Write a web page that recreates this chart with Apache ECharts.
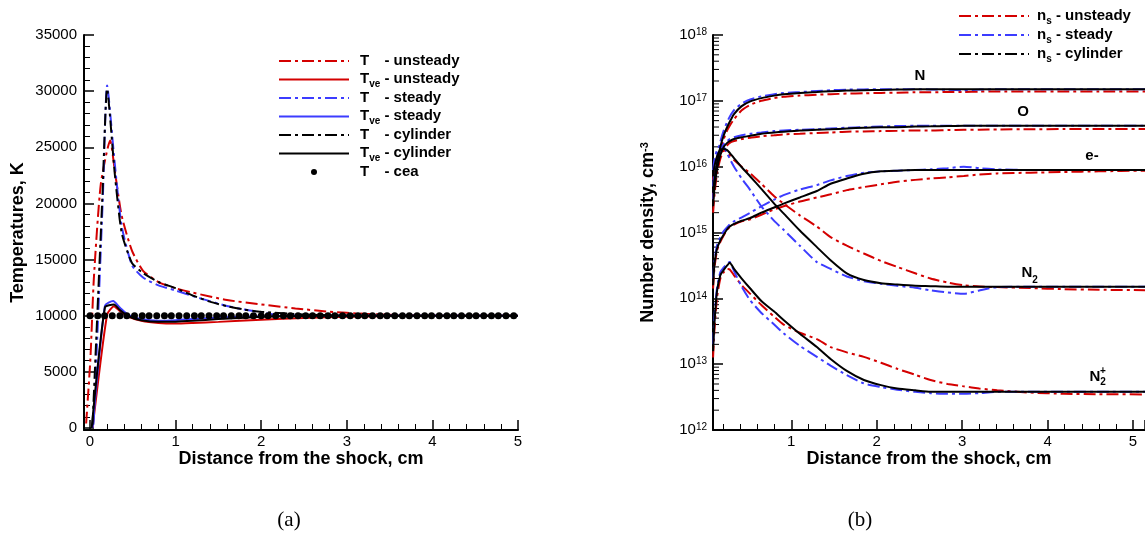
<!DOCTYPE html>
<html><head><meta charset="utf-8">
<script src="https://cdn.jsdelivr.net/npm/echarts@6/dist/echarts.min.js"></script>
<style>html,body{margin:0;padding:0;background:#fff}#c{width:1145px;height:533px}</style>
</head><body><div id="c"></div>
<script>
const FONT = '"Liberation Sans", Arial, sans-serif';
const RED = '#d40000', BLUE = '#3c3cff', BLACK = '#000000';
const DASHDOT = [12, 4, 3, 4];

// ---------- Panel (a): temperatures ----------
const tUnsteadyX = [-0.045, 0.005, 0.045, 0.126, 0.236, 0.29, 0.37, 0.49, 0.62, 0.8, 1.0, 1.2, 1.6, 2.0, 2.4, 2.8, 3.2, 3.6, 4.0, 5.0];
const tUnsteadyY = [400, 6200, 13300, 21700, 25600, 22900, 18900, 15800, 14000, 13000, 12450, 12050, 11400, 11000, 10650, 10350, 10170, 10050, 10000, 10000];
const tveUnsteadyX = [0.03, 0.2, 0.28, 0.35, 0.45, 0.6, 0.8, 1.0, 1.2, 1.5, 2.0, 2.5, 3.0, 3.5, 4.0, 5.0];
const tveUnsteadyY = [0, 10100, 10850, 10400, 9900, 9550, 9350, 9300, 9350, 9450, 9650, 9800, 9900, 9970, 10000, 10000];
const tSteadyX = [0.04, 0.09, 0.15, 0.2, 0.29, 0.37, 0.49, 0.62, 0.8, 1.0, 1.2, 1.4, 1.6, 1.8, 2.0, 2.2, 2.6, 3.0, 4.0, 5.0];
const tSteadyY = [300, 9000, 20500, 30500, 23500, 18000, 14500, 13400, 12700, 12250, 11750, 11300, 10860, 10550, 10300, 10080, 10000, 10000, 10000, 10000];
const tveSteadyX = [0.03, 0.175, 0.27, 0.35, 0.45, 0.6, 0.8, 1.0, 1.2, 1.5, 2.0, 2.5, 5.0];
const tveSteadyY = [0, 10900, 11300, 10700, 10050, 9700, 9550, 9600, 9700, 9850, 9950, 10000, 10000];
const tCylX = [0.03, 0.086, 0.147, 0.2, 0.29, 0.37, 0.49, 0.62, 0.8, 1.0, 1.2, 1.4, 1.6, 1.8, 2.0, 2.4, 2.8, 3.2, 4.0, 5.0];
const tCylY = [300, 10200, 21000, 30200, 22600, 17400, 14700, 13800, 13000, 12450, 11800, 11250, 10850, 10550, 10350, 10150, 10030, 10000, 10000, 10000];
const tveCylX = [0.02, 0.175, 0.28, 0.35, 0.45, 0.6, 0.8, 1.0, 1.2, 1.5, 2.0, 2.5, 3.0, 5.0];
const tveCylY = [0, 10750, 11000, 10500, 9950, 9600, 9450, 9470, 9550, 9700, 9900, 9980, 10000, 10000];
const ceaX = [0, 0.09, 0.17, 0.26, 0.35, 0.43, 0.52, 0.61, 0.69, 0.78, 0.87, 0.95, 1.04, 1.13, 1.22, 1.30, 1.39, 1.48, 1.56, 1.65, 1.74, 1.82, 1.91, 2.00, 2.08, 2.17, 2.26, 2.34, 2.43, 2.52, 2.60, 2.69, 2.78, 2.86, 2.95, 3.04, 3.13, 3.21, 3.30, 3.39, 3.47, 3.56, 3.65, 3.73, 3.82, 3.91, 3.99, 4.08, 4.17, 4.25, 4.34, 4.43, 4.51, 4.60, 4.69, 4.77, 4.86, 4.95];
const ceaY = [10000, 10000, 10000, 10000, 10000, 10000, 10000, 10000, 10000, 10000, 10000, 10000, 10000, 10000, 10000, 10000, 10000, 10000, 10000, 10000, 10000, 10000, 10000, 10000, 10000, 10000, 10000, 10000, 10000, 10000, 10000, 10000, 10000, 10000, 10000, 10000, 10000, 10000, 10000, 10000, 10000, 10000, 10000, 10000, 10000, 10000, 10000, 10000, 10000, 10000, 10000, 10000, 10000, 10000, 10000, 10000, 10000, 10000];

// ---------- Panel (b): number densities ----------
const RX = [0.085, 0.1, 0.13, 0.17, 0.21, 0.25, 0.28, 0.33, 0.42, 0.52, 0.65, 0.8, 0.91, 1.1, 1.3, 1.46, 1.65, 1.85, 2.05, 2.24, 2.45, 2.63, 2.83, 3.02, 3.2, 3.41, 3.8, 4.19, 4.6, 5.14];
const nCyl = [4.0e15, 6.3e15, 1.12e16, 2.0e16, 3.0e16, 4.0e16, 4.8e16, 6.3e16, 8.3e16, 9.8e16, 1.1e17, 1.2e17, 1.26e17, 1.32e17, 1.36e17, 1.4e17, 1.43e17, 1.45e17, 1.46e17, 1.48e17, 1.5e17, 1.5e17, 1.5e17, 1.5e17, 1.5e17, 1.5e17, 1.5e17, 1.5e17, 1.5e17, 1.5e17];
const nStd = [5.0e15, 7.9e15, 1.41e16, 2.4e16, 3.55e16, 4.8e16, 5.75e16, 7.2e16, 9.1e16, 1.05e17, 1.17e17, 1.26e17, 1.32e17, 1.36e17, 1.41e17, 1.45e17, 1.48e17, 1.49e17, 1.5e17, 1.5e17, 1.5e17, 1.49e17, 1.47e17, 1.45e17, 1.48e17, 1.5e17, 1.5e17, 1.5e17, 1.5e17, 1.5e17];
const nUns = [3.2e15, 5.0e15, 1.0e16, 1.78e16, 2.63e16, 3.55e16, 4.2e16, 5.25e16, 7.2e16, 8.7e16, 1.0e17, 1.1e17, 1.15e17, 1.2e17, 1.24e17, 1.26e17, 1.29e17, 1.3e17, 1.32e17, 1.33e17, 1.35e17, 1.35e17, 1.36e17, 1.36e17, 1.38e17, 1.38e17, 1.38e17, 1.38e17, 1.38e17, 1.38e17];
const oCyl = [2.5e15, 4.5e15, 8.9e15, 1.5e16, 2.0e16, 2.3e16, 2.45e16, 2.63e16, 2.8e16, 2.95e16, 3.16e16, 3.3e16, 3.4e16, 3.55e16, 3.63e16, 3.7e16, 3.8e16, 3.9e16, 3.98e16, 3.98e16, 4.07e16, 4.1e16, 4.15e16, 4.17e16, 4.17e16, 4.17e16, 4.17e16, 4.17e16, 4.17e16, 4.17e16];
const oStd = [3.2e15, 5.6e15, 1.12e16, 1.78e16, 2.2e16, 2.45e16, 2.63e16, 2.8e16, 3.0e16, 3.16e16, 3.3e16, 3.47e16, 3.55e16, 3.63e16, 3.7e16, 3.8e16, 3.9e16, 3.98e16, 4.07e16, 4.15e16, 4.17e16, 4.17e16, 4.17e16, 4.17e16, 4.17e16, 4.17e16, 4.17e16, 4.17e16, 4.17e16, 4.17e16];
const oUns = [2.0e15, 3.55e15, 7.9e15, 1.32e16, 1.78e16, 2.1e16, 2.3e16, 2.45e16, 2.63e16, 2.75e16, 2.9e16, 3.0e16, 3.1e16, 3.16e16, 3.24e16, 3.3e16, 3.4e16, 3.43e16, 3.47e16, 3.5e16, 3.55e16, 3.55e16, 3.6e16, 3.63e16, 3.65e16, 3.68e16, 3.7e16, 3.72e16, 3.72e16, 3.72e16];
const eCyl = [1.58e14, 3.16e14, 5.6e14, 7.6e14, 9.3e14, 1.12e15, 1.23e15, 1.35e15, 1.51e15, 1.66e15, 2.0e15, 2.4e15, 2.75e15, 3.4e15, 4.27e15, 5.5e15, 6.6e15, 7.8e15, 8.5e15, 8.7e15, 8.9e15, 8.9e15, 8.9e15, 8.9e15, 8.9e15, 8.9e15, 8.9e15, 8.9e15, 8.9e15, 8.9e15];
const eStd = [2.0e14, 3.55e14, 6.3e14, 8.5e14, 1.05e15, 1.2e15, 1.32e15, 1.48e15, 1.7e15, 2.0e15, 2.5e15, 3.16e15, 3.7e15, 4.5e15, 5.25e15, 6.2e15, 7.2e15, 8.1e15, 8.5e15, 8.7e15, 8.9e15, 9.1e15, 9.5e15, 1.0e16, 9.5e15, 9.1e15, 8.9e15, 8.9e15, 8.9e15, 8.9e15];
const eUns = [1.41e14, 2.8e14, 5.25e14, 7.2e14, 9.1e14, 1.1e15, 1.2e15, 1.32e15, 1.48e15, 1.58e15, 1.86e15, 2.24e15, 2.5e15, 2.95e15, 3.4e15, 3.8e15, 4.4e15, 4.9e15, 5.4e15, 5.9e15, 6.3e15, 6.6e15, 6.9e15, 7.2e15, 7.6e15, 7.9e15, 8.1e15, 8.3e15, 8.5e15, 8.7e15];
const n2Cyl = [7.1e15, 1.0e16, 1.41e16, 1.82e16, 1.86e16, 1.78e16, 1.62e16, 1.35e16, 9.8e15, 7.1e15, 4.6e15, 2.75e15, 1.95e15, 1.07e15, 6.0e14, 3.8e14, 2.4e14, 1.9e14, 1.7e14, 1.62e14, 1.55e14, 1.53e14, 1.5e14, 1.5e14, 1.5e14, 1.5e14, 1.5e14, 1.5e14, 1.5e14, 1.5e14];
const n2Std = [8.9e15, 1.26e16, 1.78e16, 2.1e16, 2.0e16, 1.58e16, 1.32e16, 1.0e16, 6.6e15, 4.4e15, 2.5e15, 1.5e15, 1.1e15, 6.3e14, 3.55e14, 2.8e14, 2.15e14, 1.82e14, 1.66e14, 1.55e14, 1.45e14, 1.32e14, 1.23e14, 1.17e14, 1.32e14, 1.48e14, 1.5e14, 1.5e14, 1.5e14, 1.5e14];
const n2Uns = [6.3e15, 8.9e15, 1.26e16, 1.58e16, 1.78e16, 1.66e16, 1.48e16, 1.26e16, 1.0e16, 7.9e15, 5.5e15, 3.55e15, 2.75e15, 1.82e15, 1.23e15, 8.5e14, 6.3e14, 4.8e14, 3.7e14, 3.0e14, 2.4e14, 2.0e14, 1.74e14, 1.58e14, 1.51e14, 1.48e14, 1.43e14, 1.38e14, 1.35e14, 1.33e14];
const n2pCyl = [1.58e13, 4.0e13, 1.26e14, 2.24e14, 2.7e14, 3.16e14, 3.47e14, 2.8e14, 2.0e14, 1.41e14, 9.1e13, 6.3e13, 4.7e13, 2.9e13, 1.82e13, 1.2e13, 7.9e12, 5.75e12, 4.8e12, 4.27e12, 4.0e12, 3.8e12, 3.8e12, 3.8e12, 3.8e12, 3.8e12, 3.8e12, 3.8e12, 3.8e12, 3.8e12];
const n2pStd = [2.0e13, 5.0e13, 1.41e14, 2.5e14, 2.95e14, 3.4e14, 3.55e14, 2.6e14, 1.5e14, 9.3e13, 6.0e13, 4.0e13, 2.95e13, 1.9e13, 1.29e13, 9.5e12, 6.8e12, 5.1e12, 4.5e12, 4.1e12, 3.8e12, 3.63e12, 3.55e12, 3.55e12, 3.63e12, 3.8e12, 3.8e12, 3.8e12, 3.8e12, 3.8e12];
const n2pUns = [1.26e13, 3.16e13, 1.0e14, 2.0e14, 2.5e14, 2.8e14, 2.75e14, 2.24e14, 1.58e14, 1.17e14, 7.9e13, 5.25e13, 4.0e13, 3.0e13, 2.4e13, 1.82e13, 1.51e13, 1.29e13, 1.05e13, 8.5e12, 6.9e12, 5.75e12, 5.0e12, 4.6e12, 4.27e12, 4.0e12, 3.7e12, 3.55e12, 3.5e12, 3.47e12];

// axis ranges
const LX_MIN = -0.07, LX_MAX = 5, LY_MIN = -180, LY_MAX = 35000;
const RX_MIN = 0.084, RX_MAX = 5.14, RY_MIN = 1e12, RY_MAX = 1e18;

// minor log tick positions (axis decoration)
const logMinorTicks = [];
for (let e = 12; e < 18; e++) for (let m = 2; m <= 9; m++) logMinorTicks.push(m * Math.pow(10, e));

const zip = (xs, ys) => xs.map((x, i) => [x, ys[i]]);

function lineS(name, xs, ys, color, dashed, gi) {
  return {
    type: 'line', name, xAxisIndex: gi, yAxisIndex: gi, data: zip(xs, ys),
    symbol: 'none', showSymbol: false, smooth: 0.2, silent: true,
    lineStyle: { color, width: 2, type: dashed ? DASHDOT : 'solid' },
    itemStyle: { color }, emphasis: { disabled: true }
  };
}

const L_UNS = 'T - unsteady', L_VUNS = 'Tve - unsteady', L_STD = 'T - steady', L_VSTD = 'Tve - steady',
      L_CYL = 'T - cylinder', L_VCYL = 'Tve - cylinder', L_CEA = 'T - cea';
const R_UNS = 'ns - unsteady', R_STD = 'ns - steady', R_CYL = 'ns - cylinder';

const legendRich = {
  t: { fontFamily: FONT, fontSize: 15, fontWeight: 'bold', color: '#000', lineHeight: 16, verticalAlign: 'top', padding: [0, 0, 0, 6] },
  t2: { fontFamily: FONT, fontSize: 15, fontWeight: 'bold', color: '#000', lineHeight: 16, verticalAlign: 'top', padding: [0, 0, 0, 3] },
  r: { fontFamily: FONT, fontSize: 15, fontWeight: 'bold', color: '#000', lineHeight: 16, verticalAlign: 'top' },
  sub: { fontFamily: FONT, fontSize: 10, fontWeight: 'bold', color: '#000', lineHeight: 10, verticalAlign: 'top', padding: [8, 0, 0, 0] },
  ghost: { fontFamily: FONT, fontSize: 10, fontWeight: 'bold', color: 'rgba(0,0,0,0)', lineHeight: 10, verticalAlign: 'top', padding: [8, 0, 0, 0] }
};
const legendText = {};
legendText[L_UNS] = '{t|T}{ghost|ve}{r| - unsteady}';
legendText[L_VUNS] = '{t|T}{sub|ve}{r| - unsteady}';
legendText[L_STD] = '{t|T}{ghost|ve}{r| - steady}';
legendText[L_VSTD] = '{t|T}{sub|ve}{r| - steady}';
legendText[L_CYL] = '{t|T}{ghost|ve}{r| - cylinder}';
legendText[L_VCYL] = '{t|T}{sub|ve}{r| - cylinder}';
legendText[L_CEA] = '{t|T}{ghost|ve}{r| - cea}';
legendText[R_UNS] = '{t2|n}{sub|s}{r| - unsteady}';
legendText[R_STD] = '{t2|n}{sub|s}{r| - steady}';
legendText[R_CYL] = '{t2|n}{sub|s}{r| - cylinder}';

const tickLabel = { fontFamily: FONT, fontSize: 15, color: '#000' };
const axisTitle = { fontFamily: FONT, fontSize: 18, fontWeight: 'bold', color: '#000' };
function baseAxis(extra) {
  return Object.assign({
    type: 'value',
    axisLine: { show: true, onZero: false, lineStyle: { color: '#000', width: 2 } },
    axisTick: { show: true, inside: true, length: 10, lineStyle: { color: '#000', width: 1.5 } },
    minorTick: { show: true, splitNumber: 5, length: 6, lineStyle: { color: '#000', width: 1 } },
    splitLine: { show: false }, minorSplitLine: { show: false },
    axisPointer: { show: false }
  }, extra);
}

const series = [
  lineS(L_UNS, tUnsteadyX, tUnsteadyY, RED, true, 0),
  lineS(L_VUNS, tveUnsteadyX, tveUnsteadyY, RED, false, 0),
  lineS(L_STD, tSteadyX, tSteadyY, BLUE, true, 0),
  lineS(L_VSTD, tveSteadyX, tveSteadyY, BLUE, false, 0),
  lineS(L_CYL, tCylX, tCylY, BLACK, true, 0),
  lineS(L_VCYL, tveCylX, tveCylY, BLACK, false, 0),
  { type: 'scatter', name: L_CEA, xAxisIndex: 0, yAxisIndex: 0, data: zip(ceaX, ceaY), symbol: 'circle', symbolSize: 7, itemStyle: { color: '#000', opacity: 1 }, silent: true, z: 5 },
  // panel b: unsteady (red), steady (blue), cylinder (black)
  lineS(R_UNS, RX, nUns, RED, true, 1), lineS(R_UNS, RX, oUns, RED, true, 1), lineS(R_UNS, RX, eUns, RED, true, 1), lineS(R_UNS, RX, n2Uns, RED, true, 1), lineS(R_UNS, RX, n2pUns, RED, true, 1),
  lineS(R_STD, RX, nStd, BLUE, true, 1), lineS(R_STD, RX, oStd, BLUE, true, 1), lineS(R_STD, RX, eStd, BLUE, true, 1), lineS(R_STD, RX, n2Std, BLUE, true, 1), lineS(R_STD, RX, n2pStd, BLUE, true, 1),
  lineS(R_CYL, RX, nCyl, BLACK, false, 1), lineS(R_CYL, RX, oCyl, BLACK, false, 1), lineS(R_CYL, RX, eCyl, BLACK, false, 1), lineS(R_CYL, RX, n2Cyl, BLACK, false, 1), lineS(R_CYL, RX, n2pCyl, BLACK, false, 1),
  {
    type: 'custom', name: 'minorLogTicks', xAxisIndex: 1, yAxisIndex: 1, silent: true, clip: false,
    data: logMinorTicks.map(v => [RX_MIN, v]),
    renderItem: (params, api) => {
      const p = api.coord([api.value(0), api.value(1)]);
      return { type: 'line', shape: { x1: p[0], y1: p[1], x2: p[0] + 6, y2: p[1] }, style: { stroke: '#000', lineWidth: 1 } };
    }
  }
];

const option = {
  animation: false,
  backgroundColor: '#fff',
  grid: [
    { left: 84, top: 35, width: 434, height: 395, containLabel: false, outerBoundsMode: 'none' },
    { left: 713, top: 35, width: 432, height: 395, containLabel: false, outerBoundsMode: 'none' }
  ],
  xAxis: [
    baseAxis({ gridIndex: 0, min: LX_MIN, max: LX_MAX, splitNumber: 5,
      axisLabel: Object.assign({ showMinLabel: false, margin: 4, formatter: v => String(Math.round(v)) }, tickLabel),
      name: 'Distance from the shock, cm', nameLocation: 'middle', nameGap: 20, nameMoveOverlap: false, nameTextStyle: axisTitle }),
    baseAxis({ gridIndex: 1, min: RX_MIN, max: RX_MAX, splitNumber: 5,
      axisLabel: Object.assign({ showMinLabel: false, showMaxLabel: false, margin: 4, formatter: v => String(Math.round(v)) }, tickLabel),
      name: 'Distance from the shock, cm', nameLocation: 'middle', nameGap: 20, nameMoveOverlap: false, nameTextStyle: axisTitle })
  ],
  yAxis: [
    baseAxis({ gridIndex: 0, min: LY_MIN, max: LY_MAX, splitNumber: 7,
      axisLabel: Object.assign({ showMinLabel: false, margin: 7, formatter: v => String(Math.round(v)) }, tickLabel),
      name: 'Temperatures, K', nameLocation: 'middle', nameGap: 57, nameMoveOverlap: false, nameTextStyle: axisTitle }),
    baseAxis({ gridIndex: 1, type: 'log', logBase: 10, min: RY_MIN, max: RY_MAX, splitNumber: 6,
      minorTick: { show: false },
      axisLabel: {
        margin: 6, lineHeight: 20,
        formatter: v => '{b|10}{s|' + Math.round(Math.log10(v)) + '}',
        rich: {
          b: { fontFamily: FONT, fontSize: 15, color: '#000', lineHeight: 15, verticalAlign: 'bottom' },
          s: { fontFamily: FONT, fontSize: 10, color: '#000', lineHeight: 10, verticalAlign: 'top' }
        }
      },
      name: '{b|Number density, cm}{s|-3}', nameLocation: 'middle', nameGap: 56, nameMoveOverlap: false,
      nameTextStyle: {
        rich: {
          b: { fontFamily: FONT, fontSize: 18, fontWeight: 'bold', color: '#000', lineHeight: 18, verticalAlign: 'bottom' },
          s: { fontFamily: FONT, fontSize: 11, fontWeight: 'bold', color: '#000', lineHeight: 11, verticalAlign: 'top' }
        }
      } })
  ],
  legend: [
    {
      orient: 'vertical', left: 278, top: 53, padding: 0, itemWidth: 70, itemHeight: 6, itemGap: 0.5,
      selectedMode: false, symbolKeepAspect: true,
      itemStyle: { opacity: 0 },
      data: [L_UNS, L_VUNS, L_STD, L_VSTD, L_CYL, L_VCYL, { name: L_CEA, icon: 'circle', itemStyle: { opacity: 1, color: '#000' } }],
      formatter: n => legendText[n],
      textStyle: { fontFamily: FONT, fontSize: 15, fontWeight: 'bold', color: '#000', rich: legendRich }
    },
    {
      orient: 'vertical', left: 958, top: 8, padding: 0, itemWidth: 70, itemHeight: 6, itemGap: 1,
      selectedMode: false,
      itemStyle: { opacity: 0 },
      data: [R_UNS, R_STD, { name: R_CYL, lineStyle: { type: DASHDOT } }],
      formatter: n => legendText[n],
      textStyle: { fontFamily: FONT, fontSize: 15, fontWeight: 'bold', color: '#000', rich: legendRich }
    }
  ],
  graphic: [
    { type: 'text', x: 289, y: 520, style: { text: '(a)', font: '21px "Liberation Serif", serif', fill: '#000', align: 'center', verticalAlign: 'middle' } },
    { type: 'text', x: 860, y: 520, style: { text: '(b)', font: '21px "Liberation Serif", serif', fill: '#000', align: 'center', verticalAlign: 'middle' } },
    { type: 'text', x: 920, y: 76, style: { text: 'N', font: 'bold 15px ' + FONT, fill: '#000', align: 'center', verticalAlign: 'middle' } },
    { type: 'text', x: 1023, y: 112, style: { text: 'O', font: 'bold 15px ' + FONT, fill: '#000', align: 'center', verticalAlign: 'middle' } },
    { type: 'text', x: 1092, y: 156, style: { text: 'e-', font: 'bold 15px ' + FONT, fill: '#000', align: 'center', verticalAlign: 'middle' } },
    { type: 'text', x: 1027, y: 273, style: { text: 'N', font: 'bold 15px ' + FONT, fill: '#000', align: 'center', verticalAlign: 'middle' } },
    { type: 'text', x: 1035, y: 280, style: { text: '2', font: 'bold 10px ' + FONT, fill: '#000', align: 'center', verticalAlign: 'middle' } },
    { type: 'text', x: 1095, y: 377, style: { text: 'N', font: 'bold 15px ' + FONT, fill: '#000', align: 'center', verticalAlign: 'middle' } },
    { type: 'text', x: 1103, y: 371, style: { text: '+', font: 'bold 10px ' + FONT, fill: '#000', align: 'center', verticalAlign: 'middle' } },
    { type: 'text', x: 1103, y: 382, style: { text: '2', font: 'bold 10px ' + FONT, fill: '#000', align: 'center', verticalAlign: 'middle' } }
  ],
  series
};

const chart = echarts.init(document.getElementById('c'), null, { renderer: 'canvas' });
chart.setOption(option);
</script></body></html>
